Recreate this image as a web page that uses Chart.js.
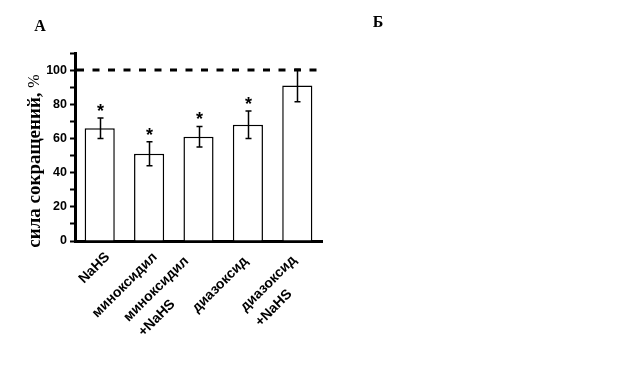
<!DOCTYPE html>
<html>
<head>
<meta charset="utf-8">
<script src="https://cdn.jsdelivr.net/npm/chart.js@4.4.1/dist/chart.umd.min.js"></script>
<style>
    html, body { margin: 0; padding: 0; background: #fff; }
    #wrap { position: relative; width: 629px; height: 387px; }
</style>
</head>
<body>
<div id="wrap"><canvas id="chart" width="629" height="387"></canvas></div>
<script>
// данные
const groups = [['NaHS'], ['миноксидил'], ['миноксидил', '+NaHS'], ['диазоксид'], ['диазоксид', '+NaHS']];
const means = [66, 51, 61, 68, 91];
const errors = [6, 7, 6, 8, 9.5];
const significant = [true, true, true, true, false];
const controlLevel = 100;
const yTitle = 'сила сокращений, ';
const yTitleUnit = '%';
const panelLabels = ['А', 'Б'];

// сдвиг подписей категорий (px), как на исходном рисунке
const labelShiftX = [0, -2, -20, -10, -11];
const labelShiftY = [0, 0, 4, 4, 3];

const extras = {
    id: 'extras',
    afterDatasetsDraw(chart) {
        const {ctx, chartArea, scales: {x, y}} = chart;
        ctx.save();
        ctx.strokeStyle = '#000';
        ctx.fillStyle = '#000';

        // планки погрешностей и звёздочки
        ctx.lineWidth = 1.5;
        means.forEach((m, i) => {
            const cx = Math.round(x.getPixelForValue(i)) + 0.5;
            const top = y.getPixelForValue(m + errors[i]);
            const bot = y.getPixelForValue(m - errors[i]);
            ctx.beginPath();
            ctx.moveTo(cx, top);
            ctx.lineTo(cx, bot);
            ctx.moveTo(cx - 3, top);
            ctx.lineTo(cx + 3, top);
            ctx.moveTo(cx - 3, bot);
            ctx.lineTo(cx + 3, bot);
            ctx.stroke();
            if (significant[i]) {
                ctx.font = 'bold 18px "Liberation Sans", Arial, sans-serif';
                ctx.textAlign = 'center';
                ctx.textBaseline = 'alphabetic';
                ctx.fillText('*', cx, top - 1);
            }
        });

        // уровень контроля 100%
        const yy = y.getPixelForValue(controlLevel);
        ctx.beginPath();
        ctx.lineWidth = 3;
        ctx.setLineDash([7, 8.5]);
        ctx.moveTo(chartArea.left + 2, yy);
        ctx.lineTo(chartArea.right, yy);
        ctx.stroke();
        ctx.setLineDash([]);

        // подписи категорий
        ctx.font = 'bold 14px "Liberation Sans", Arial, sans-serif';
        groups.forEach((lines, i) => {
            const cx = x.getPixelForValue(i);
            const w1 = ctx.measureText(lines[0]).width;
            ctx.save();
            ctx.translate(cx + 3 + labelShiftX[i], chartArea.bottom + 9 + labelShiftY[i]);
            ctx.rotate(-Math.PI / 4);
            ctx.textBaseline = 'top';
            ctx.textAlign = 'right';
            ctx.fillText(lines[0], 0, 0);
            if (lines[1]) {
                ctx.textAlign = 'left';
                ctx.fillText(lines[1], -w1, 21);
            }
            ctx.restore();
        });

        // подпись оси Y
        ctx.save();
        ctx.translate(35, 161);
        ctx.rotate(-Math.PI / 2);
        ctx.textBaseline = 'middle';
        const bold = 'bold 19px "Liberation Serif", "Times New Roman", serif';
        const plain = '16px "Liberation Serif", "Times New Roman", serif';
        ctx.font = bold;
        const tw = ctx.measureText(yTitle).width;
        ctx.font = plain;
        const uw = ctx.measureText(yTitleUnit).width;
        const start = -(tw + uw) / 2;
        ctx.textAlign = 'left';
        ctx.font = bold;
        ctx.fillText(yTitle, start, 0);
        ctx.font = plain;
        ctx.fillText(yTitleUnit, start + tw, 0);
        ctx.restore();

        // буквы панелей
        ctx.font = 'bold 16px "Liberation Serif", "Times New Roman", serif';
        ctx.textAlign = 'center';
        ctx.textBaseline = 'middle';
        ctx.fillText(panelLabels[0], 40, 27);
        ctx.fillText(panelLabels[1], 378, 23);

        ctx.restore();
    }
};

new Chart(document.getElementById('chart'), {
    type: 'bar',
    data: {
        labels: groups,
        datasets: [{
            data: means,
            backgroundColor: '#fff',
            borderColor: '#000',
            borderWidth: 1.5,
            barPercentage: 0.61,
            categoryPercentage: 1,
        }]
    },
    options: {
        responsive: false,
        animation: false,
        events: [],
        layout: {
            padding: {left: 0, right: 307, top: 53, bottom: 146}
        },
        plugins: {
            legend: {display: false},
            tooltip: {enabled: false},
        },
        scales: {
            x: {
                grid: {display: false},
                border: {display: true, color: '#000', width: 3},
                ticks: {display: false},
                afterFit(scale) { scale.height = 0; },
            },
            y: {
                min: 0,
                max: 110,
                grid: {
                    drawOnChartArea: false,
                    drawTicks: true,
                    tickLength: 5,
                    tickWidth: 2,
                    color: '#000',
                },
                border: {display: true, color: '#000', width: 3},
                ticks: {
                    stepSize: 10,
                    autoSkip: false,
                    padding: 3,
                    color: '#000',
                    font: {family: '"Liberation Sans", Arial, sans-serif', size: 12.5, weight: 'bold'},
                    callback: (v) => (v % 20 === 0 && v <= 100) ? v : '',
                },
                afterFit(scale) { scale.width = 75; },
            }
        }
    },
    plugins: [extras]
});
</script>
</body>
</html>
